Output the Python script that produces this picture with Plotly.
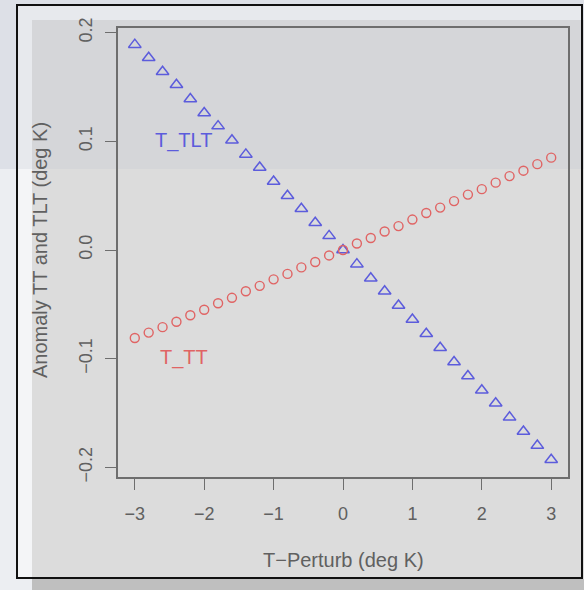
import plotly.graph_objects as go

# ---- data ----
t_perturb = [-3.0, -2.8, -2.6, -2.4, -2.2, -2.0, -1.8, -1.6, -1.4, -1.2, -1.0,
             -0.8, -0.6, -0.4, -0.2, 0.0, 0.2, 0.4, 0.6, 0.8, 1.0,
             1.2, 1.4, 1.6, 1.8, 2.0, 2.2, 2.4, 2.6, 2.8, 3.0]
t_tlt = [0.189, 0.177, 0.164, 0.152, 0.139, 0.126, 0.114, 0.101, 0.088, 0.076, 0.063,
         0.050, 0.038, 0.025, 0.013, 0.000, -0.013, -0.026, -0.038, -0.051, -0.064,
         -0.077, -0.090, -0.103, -0.116, -0.129, -0.141, -0.154, -0.167, -0.180, -0.193]
t_tt = [-0.081, -0.076, -0.071, -0.066, -0.060, -0.055, -0.049, -0.044, -0.038, -0.033, -0.027,
        -0.022, -0.016, -0.011, -0.005, 0.000, 0.006, 0.011, 0.017, 0.022, 0.028,
        0.034, 0.039, 0.045, 0.051, 0.056, 0.062, 0.068, 0.073, 0.079, 0.085]
x_ticks = [-3, -2, -1, 0, 1, 2, 3]
x_ticktext = ["\u22123", "\u22122", "\u22121", "0", "1", "2", "3"]
y_ticks = [-0.2, -0.1, 0.0, 0.1, 0.2]
y_ticktext = ["\u22120.2", "\u22120.1", "0.0", "0.1", "0.2"]

W_PAGE, H_PAGE = 584, 590
L, R, T, B = 118, 16, 28, 113
PW, PH = W_PAGE - L - R, H_PAGE - T - B

def px(x):
    return (x - L) / PW

def py(y):
    return (T + PH - y) / PH

def rect(x0, y0, x1, y1, fill=None, line=None, lw=0):
    d = dict(type="rect", xref="paper", yref="paper",
             x0=px(x0), x1=px(x1), y0=py(y1), y1=py(y0), layer="below")
    d["fillcolor"] = fill if fill else "rgba(0,0,0,0)"
    d["line"] = dict(color=line or "rgba(0,0,0,0)", width=lw)
    return d

TXT = "#606060"
AXC = "#6e6e6e"
BLUE = "#5c5cdc"
RED = "#e06464"
FONT = "Liberation Sans, Arial, sans-serif"

fig = go.Figure()
fig.add_trace(go.Scatter(x=t_perturb, y=t_tlt, mode="markers", name="T_TLT",
                         marker=dict(symbol="triangle-up-open", size=11, color=BLUE,
                                     line=dict(width=1.5, color=BLUE))))
fig.add_trace(go.Scatter(x=t_perturb, y=t_tt, mode="markers", name="T_TT",
                         marker=dict(symbol="circle-open", size=9, color=RED,
                                     line=dict(width=1.4, color=RED))))

shapes = [
    rect(0, 0, 584, 169, fill="#dde0e7"),          # outer upper band
    rect(17, 5, 582, 578, fill="#f4f5f7"),          # frame interior lower
    rect(17, 5, 582, 169, fill="#e7e9ed"),          # frame interior upper
    rect(32, 20, 584, 590, fill="#dcdcdc"),         # panel lower
    rect(32, 20, 584, 169, fill="#d5d6d9"),         # panel upper
    rect(32, 579, 584, 590, fill="#bfbfbf"),        # strip under frame
    rect(17, 5, 582, 578, line="#111111", lw=2),    # frame border
]

def ann(text, x, y, color, angle=0):
    return dict(text=text, xref="paper", yref="paper", x=px(x), y=py(y),
                xanchor="center", yanchor="middle", showarrow=False,
                textangle=angle, font=dict(family=FONT, size=20, color=color))

fig.update_layout(
    width=W_PAGE, height=H_PAGE,
    margin=dict(l=L, r=R, t=T, b=B, pad=0),
    paper_bgcolor="#eceef2",
    plot_bgcolor="rgba(0,0,0,0)",
    showlegend=False,
    shapes=shapes,
    font=dict(family=FONT, color=TXT, size=18),
    xaxis=dict(range=[-3.242, 3.242], tickvals=x_ticks, ticktext=x_ticktext,
               showgrid=False, zeroline=False, showline=True, mirror=True,
               linecolor=AXC, linewidth=1.5, ticks="outside", ticklen=11,
               tickwidth=1.3, tickcolor=AXC, ticklabelstandoff=9,
               tickfont=dict(family=FONT, size=18, color=TXT)),
    yaxis=dict(range=[-0.2089, 0.2043], tickvals=y_ticks, ticktext=y_ticktext,
               showgrid=False, zeroline=False, showline=True, mirror=True,
               linecolor=AXC, linewidth=1.5, ticks="outside", ticklen=11,
               tickwidth=1.3, tickcolor=AXC, tickangle=-90, ticklabelstandoff=6,
               tickfont=dict(family=FONT, size=18, color=TXT)),
    annotations=[
        ann("T\u2212Perturb (deg K)", 343, 560, TXT),
        ann("Anomaly TT and TLT (deg K)", 40, 250, TXT, -90),
        ann("T_TLT", 183, 140, BLUE),
        ann("T_TT", 184, 357, RED),
    ],
)

fig.write_html("out.html", config={"displayModeBar": False},
               post_script="document.body.style.margin='0px';document.body.style.overflow='hidden';")
